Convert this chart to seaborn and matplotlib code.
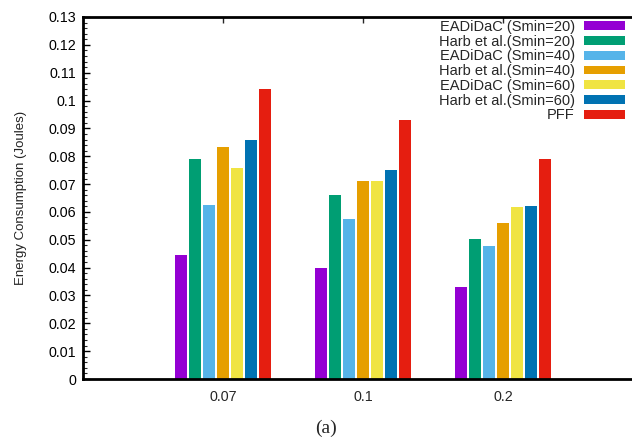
import matplotlib
matplotlib.use("Agg")
import matplotlib.pyplot as plt
import seaborn as sns
import pandas as pd
from matplotlib.ticker import MultipleLocator
from matplotlib.patches import Patch

categories = ["0.07", "0.1", "0.2"]
series_names = [
    "EADiDaC (Smin=20)",
    "Harb et al.(Smin=20)",
    "EADiDaC (Smin=40)",
    "Harb et al.(Smin=40)",
    "EADiDaC (Smin=60)",
    "Harb et al.(Smin=60)",
    "PFF",
]
eadidac_20 = [0.0445, 0.0399, 0.0330]
harb_20 = [0.0790, 0.0660, 0.0502]
eadidac_40 = [0.0624, 0.0573, 0.0478]
harb_40 = [0.0832, 0.0711, 0.0561]
eadidac_60 = [0.0757, 0.0711, 0.0617]
harb_60 = [0.0860, 0.0750, 0.0620]
pff = [0.1040, 0.0930, 0.0791]
colors = ["#9400D3", "#009E73", "#56B4E9", "#E69F00", "#F0E442", "#0072B2", "#E51E10"]

all_series = [eadidac_20, harb_20, eadidac_40, harb_40, eadidac_60, harb_60, pff]
rows = []
for name, vals in zip(series_names, all_series):
    for c, v in zip(categories, vals):
        rows.append({"cat": c, "series": name, "value": v})
df = pd.DataFrame(rows)

sns.set_theme(style="white")
plt.rcParams["font.family"] = ["Liberation Sans", "DejaVu Sans"]

fig = plt.figure(figsize=(6.32, 4.40), dpi=100)
ax = fig.add_axes([83 / 632, 1 - 379 / 440, (643 - 83) / 632, (379 - 17) / 440])

sns.barplot(data=df, x="cat", y="value", hue="series", order=categories,
            hue_order=series_names, palette=colors, width=0.7, gap=0.15,
            saturation=1, linewidth=0, ax=ax, legend=False)

ax.set_xlim(-1, 3)
ax.set_ylim(0, 0.13)
ax.yaxis.set_major_locator(MultipleLocator(0.01))
ax.yaxis.set_minor_locator(MultipleLocator(0.002))
ax.set_yticklabels([("0" if abs(t) < 1e-9 else f"{t:.2f}".rstrip("0")) for t in ax.get_yticks()])
ax.set_xlabel("")
ax.set_ylabel("Energy Consumption (Joules)", fontsize=9.5, color="#222222", labelpad=15)

for s in ["left", "top", "bottom"]:
    ax.spines[s].set_visible(True)
    ax.spines[s].set_color("black")
    ax.spines[s].set_linewidth(2)
ax.spines["right"].set_visible(False)

ax.tick_params(axis="y", which="major", direction="in", length=5, width=1, left=True, labelsize=10.3, colors="black", pad=5)
ax.tick_params(axis="y", which="minor", direction="in", length=3, width=0.8, left=True)
ax.tick_params(axis="x", which="major", direction="in", length=4, width=1, top=True, bottom=False, labelsize=10.3, pad=8)

handles = [Patch(facecolor=c, edgecolor="none") for c in colors]
leg = ax.legend(handles, series_names, loc="upper right", bbox_to_anchor=(625 / 632, 1 - 20 / 440),
                bbox_transform=fig.transFigure, frameon=False, markerfirst=False,
                fontsize=10.5, handlelength=2.8, handleheight=0.55, handletextpad=0.65,
                labelspacing=0.05, borderpad=0, borderaxespad=0)

fig.text(326 / 632, 1 - 428 / 440, "(a)", ha="center", va="center",
         fontsize=14, family=["Liberation Serif", "DejaVu Serif"])

fig.savefig("out.png", dpi=100)
